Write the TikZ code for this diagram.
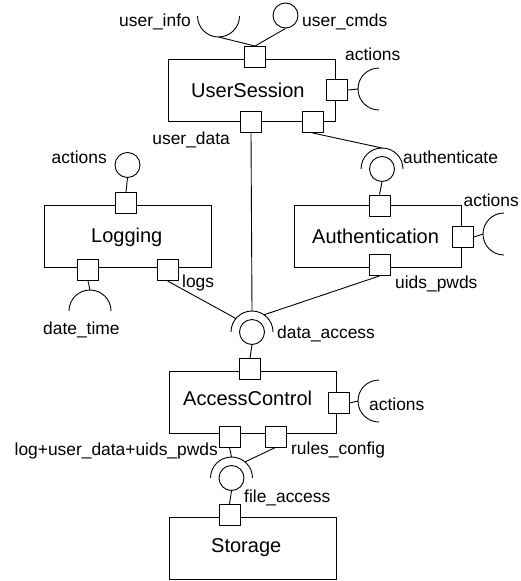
\documentclass[tikz,border=0pt]{standalone}
\usepackage{fontspec}
\setmainfont{Liberation Sans}
\usetikzlibrary{calc}
\begin{document}
\begin{tikzpicture}[x=1pt,y=-1pt,
  comp/.style={draw,line width=0.9pt,minimum width=167pt,minimum height=62pt,inner sep=0pt},
  port/.style={draw,fill=white,line width=0.9pt,minimum size=21pt,inner sep=0pt},
  ball/.style={draw,circle,line width=0.9pt,minimum size=25pt,inner sep=0pt},
  sock/.style={line width=0.9pt},
  conn/.style={line width=0.9pt},
  lbl/.style={inner sep=0pt,font=\fontsize{17.4}{20}\selectfont},
  ttl/.style={inner sep=0pt,font=\fontsize{20}{24}\selectfont}]
\useasboundingbox (0,0) rectangle (520,581);

% components
\node[comp] (US) at (252,90) {};
\node[comp] (LG) at (127.5,236) {};
\node[comp] (AU) at (377.5,236) {};
\node[comp] (AC) at (252.5,402.5) {};
\node[comp] (ST) at (252.5,548.5) {};

\node[ttl,anchor=base west] (tUS) at (191,97) {UserSession};
\node[ttl,anchor=base west] (tLG) at (91,242) {Logging};
\node[ttl,anchor=base west] (tAU) at (312,243) {Authentication};
\node[ttl,anchor=base west] (tAC) at (183,405) {AccessControl};
\node[ttl,anchor=base west] (tST) at (211,552) {Storage};

% ports
\node[port] (USt) at (255,57) {};
\node[port] (USr) at (337,90) {};
\node[port] (USb1) at (251,122) {};
\node[port] (USb2) at (312.5,122) {};
\node[port] (LGt) at (126,203) {};
\node[port] (LGb1) at (88,270) {};
\node[port] (LGb2) at (167.5,270) {};
\node[port] (AUt) at (379.5,205.5) {};
\node[port] (AUr) at (463,237) {};
\node[port] (AUb) at (379.5,265) {};
\node[port] (ACt) at (250,369) {};
\node[port] (ACr) at (338.5,403) {};
\node[port] (ACb1) at (229.5,436.5) {};
\node[port] (ACb2) at (275.5,436.5) {};
\node[port] (STt) at (229.5,515) {};

% provided interfaces (balls)
\node[ball] (ucmds) at (285.5,15.5) {};
\node[ball] (lgact) at (127.5,165) {};
\node[ball] (auth) at (382,169) {};
\node[ball] (dacc) at (252,332) {};
\node[ball] (facc) at (231.5,478) {};

% required interfaces (sockets)
\coordinate (uinfoC) at (218.5,16);
\coordinate (usactC) at (379,89);
\coordinate (auactC) at (504,234);
\coordinate (acactC) at (379,401);
\coordinate (dtC) at (90,311);

\draw[sock] ($(uinfoC)+(180:21pt)$) arc[start angle=180,end angle=360,radius=21pt];
\draw[sock] ($(usactC)+(90:21pt)$) arc[start angle=90,end angle=270,radius=21pt];
\draw[sock] ($(auactC)+(90:21pt)$) arc[start angle=90,end angle=270,radius=21pt];
\draw[sock] ($(acactC)+(90:21pt)$) arc[start angle=90,end angle=270,radius=21pt];
\draw[sock] ($(dtC)+(0:21pt)$) arc[start angle=0,end angle=180,radius=21pt];
\draw[sock] ($(auth.center)+(0:21pt)$) arc[start angle=0,end angle=180,radius=21pt];
\draw[sock] ($(dacc.center)+(0:21pt)$) arc[start angle=0,end angle=180,radius=21pt];
\draw[sock] ($(facc.center)+(0:21pt)$) arc[start angle=0,end angle=180,radius=21pt];

\coordinate (uinfoP) at ($(uinfoC)+(270:21pt)$);
\coordinate (usactP) at ($(usactC)+(180:21pt)$);
\coordinate (auactP) at ($(auactC)+(180:21pt)$);
\coordinate (acactP) at ($(acactC)+(180:21pt)$);
\coordinate (dtP) at ($(dtC)+(90:21pt)$);
\coordinate (authTop) at ($(auth.center)+(90:21pt)$);
\coordinate (daTop) at ($(dacc.center)+(90:21pt)$);
\coordinate (daR) at ($(dacc.center)+(55:21pt)$);
\coordinate (daL) at ($(dacc.center)+(140:21pt)$);
\coordinate (faTop) at ($(facc.center)+(90:21pt)$);
\coordinate (faR) at ($(facc.center)+(50:21pt)$);

% connectors
\draw[conn] (USt.north) -- (uinfoP);
\draw[conn] (USt.north) -- (ucmds.south);
\draw[conn] (USr.east) -- (usactP);
\draw[conn] (USb1.south) -- (daTop);
\draw[conn] (USb2.south) -- (authTop);
\draw[conn] (auth.south) -- (AUt.north);
\draw[conn] (AUr.east) -- (auactP);
\draw[conn] (AUb.south) -- (daR);
\draw[conn] (lgact.south) -- (LGt.north);
\draw[conn] (LGb1.south) -- (dtP);
\draw[conn] (LGb2.south) -- (daL);
\draw[conn] (dacc.south) -- (ACt.north);
\draw[conn] (ACr.east) -- (acactP);
\draw[conn] (ACb1.south) -- (faTop);
\draw[conn] (ACb2.south) -- (faR);
\draw[conn] (facc.south) -- (STt.north);

% labels
\node[lbl,anchor=base east] (l1) at (191,26) {user\_info};
\node[lbl,anchor=base west] (l2) at (302,26) {user\_cmds};
\node[lbl,anchor=base west] (l3) at (345,60) {actions};
\node[lbl,anchor=base east] (l4) at (230,144) {user\_data};
\node[lbl,anchor=base east] (l5) at (107,163) {actions};
\node[lbl,anchor=base west] (l6) at (403,163) {authenticate};
\node[lbl,anchor=base east] (l7) at (519,206) {actions};
\node[lbl,anchor=base west] (l8) at (395,288) {uids\_pwds};
\node[lbl,anchor=base west] (l9) at (182,287) {logs};
\node[lbl,anchor=base west] (l10) at (43,334) {date\_time};
\node[lbl,anchor=base west] (l11) at (277,338) {data\_access};
\node[lbl,anchor=base west] (l12) at (369,410) {actions};
\node[lbl,anchor=base east] (l13) at (218,455) {log+user\_data+uids\_pwds};
\node[lbl,anchor=base west] (l14) at (291,454) {rules\_config};
\node[lbl,anchor=base west] (l15) at (244,502) {file\_access};
\end{tikzpicture}
\end{document}
